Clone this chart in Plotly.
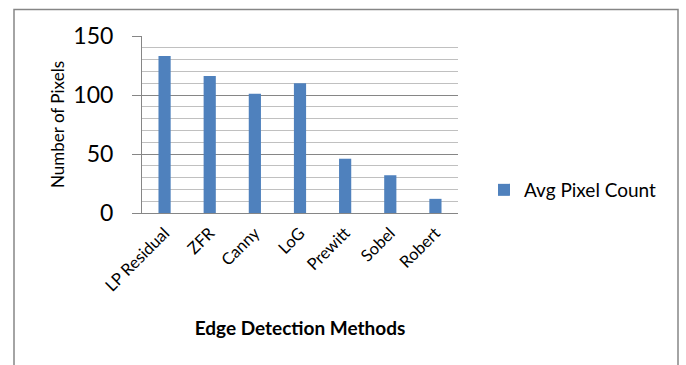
import plotly.graph_objects as go

methods = ["LP Residual", "ZFR", "Canny", "LoG", "Prewitt", "Sobel", "Robert"]
avg_pixel_count = [133, 116, 101, 110, 46, 32, 12]
y_ticks = [0, 50, 100, 150]

FONT = "Lato, Open Sans, sans-serif"
L, R, T, B = 142, 228, 36, 152
W, H = 686, 365
pw, ph = W - L - R, H - T - B

def px_x(x):
    return (x - L) / pw

def px_y(y):
    return (H - B - y) / ph

fig = go.Figure()
fig.add_trace(go.Bar(
    x=methods, y=avg_pixel_count, name="Avg Pixel Count",
    marker=dict(color="#4F81BD", line=dict(width=0)),
    width=0.27,
))

fig.update_layout(
    width=W, height=H,
    margin=dict(l=L, r=R, t=T, b=B, autoexpand=False),
    paper_bgcolor="white", plot_bgcolor="white",
    font=dict(family=FONT, color="black"),
    showlegend=True,
    legend=dict(x=px_x(484), y=px_y(190), xanchor="left", yanchor="middle",
                font=dict(size=19, family=FONT), bgcolor="rgba(0,0,0,0)",
                itemwidth=30),
    bargap=0.73,
    xaxis=dict(
        tickangle=-45, tickfont=dict(size=16.5, family=FONT),
        showline=True, linecolor="#868686", linewidth=1,
        showgrid=False, ticks="", ticklabelstandoff=3,
        title=dict(text="<b>Edge Detection Methods</b>", font=dict(size=19, family=FONT), standoff=27),
    ),
    yaxis=dict(
        range=[0, 150], tickvals=y_ticks, ticktext=[str(v) for v in y_ticks],
        tickfont=dict(size=23, family=FONT),
        showline=True, linecolor="#868686", linewidth=1,
        ticks="outside", ticklen=9, tickcolor="#868686",
        ticklabelstandoff=14,
        showgrid=True, gridcolor="#868686", gridwidth=1,
        minor=dict(dtick=10, showgrid=True, gridcolor="#C0C0C0", gridwidth=1),
        zeroline=False,
        title=dict(text="Number of Pixels", font=dict(size=17, family=FONT), standoff=4),
    ),
    shapes=[dict(type="rect", xref="paper", yref="paper",
                 x0=px_x(14), x1=px_x(678), y0=px_y(368), y1=px_y(9.5),
                 line=dict(color="#868686", width=1.5), fillcolor="rgba(0,0,0,0)",
                 layer="below")],
)

fig.write_html("out.html", config={"displayModeBar": False},
               post_script="document.body.style.margin='0';")
